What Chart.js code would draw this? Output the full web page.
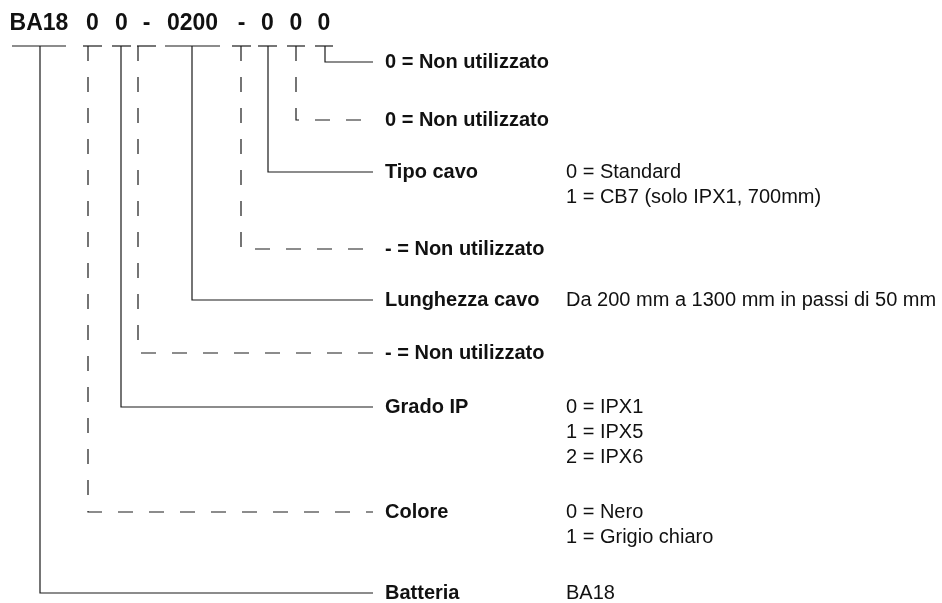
<!DOCTYPE html>
<html lang="it">
<head>
    <meta charset="UTF-8">
    <title>Codice BA18</title>
    <script src="https://cdn.jsdelivr.net/npm/chart.js"></script>
    <style>
        html, body { margin: 0; padding: 0; background: #fff; }
        .contenedor { width: 942px; height: 603px; position: relative; }
    </style>
</head>
<body>
<div class="contenedor">
    <canvas id="graficoCodice"></canvas>
</div>
<script>
// parti del codice (testata)
const codeParts = ['BA18', '0', '0', '-', '0200', '-', '0', '0', '0'];
const partStart = [12, 83, 112, 137, 165, 232, 258, 287, 315];
const partEnd   = [66, 102, 131, 156, 220, 251, 277, 305, 333];
const headerY = 46;

// campi, dall'alto verso il basso
const fieldLabels = ['0 = Non utilizzato', '0 = Non utilizzato', 'Tipo cavo', '- = Non utilizzato',
    'Lunghezza cavo', '- = Non utilizzato', 'Grado IP', 'Colore', 'Batteria'];
const fieldDrop = [325, 296, 268, 241, 192, 138, 121, 88, 40];
const fieldRow  = [62, 120, 172, 249, 300, 353, 407, 512, 593];
const fieldDashed = [false, true, false, true, false, true, false, true, false];
const fieldDescriptions = [
    [], [],
    ['0 = Standard', '1 = CB7 (solo IPX1, 700mm)'],
    [],
    ['Da 200 mm a 1300 mm in passi di 50 mm'],
    [],
    ['0 = IPX1', '1 = IPX5', '2 = IPX6'],
    ['0 = Nero', '1 = Grigio chiaro'],
    ['BA18']
];
const lineEnd = 373;

const datasets = [];
codeParts.forEach((p, i) => {
    datasets.push({
        data: [{x: partStart[i], y: headerY}, {x: partEnd[i], y: headerY}],
        borderDash: []
    });
});
fieldLabels.forEach((l, i) => {
    datasets.push({
        data: [{x: fieldDrop[i], y: headerY}, {x: fieldDrop[i], y: fieldRow[i]}, {x: lineEnd, y: fieldRow[i]}],
        borderDash: fieldDashed[i] ? [15, 16] : []
    });
});
datasets.forEach(d => {
    d.showLine = true;
    d.pointRadius = 0;
    d.borderColor = '#1a1a1a';
    d.borderWidth = 1.2;
    d.tension = 0;
});

const testi = {
    id: 'testi',
    afterDatasetsDraw(chart) {
        const ctx = chart.ctx;
        const sx = chart.scales.x, sy = chart.scales.y;
        ctx.save();
        ctx.fillStyle = '#111';
        ctx.textBaseline = 'middle';
        // testata
        ctx.font = 'bold 23px "Liberation Sans", Arial, sans-serif';
        ctx.textAlign = 'center';
        codeParts.forEach((p, i) => {
            const cx = (sx.getPixelForValue(partStart[i]) + sx.getPixelForValue(partEnd[i])) / 2;
            ctx.fillText(p, cx, sy.getPixelForValue(headerY - 22));
        });
        ctx.textAlign = 'left';
        fieldLabels.forEach((l, i) => {
            const y = sy.getPixelForValue(fieldRow[i]);
            ctx.font = 'bold 20px "Liberation Sans", Arial, sans-serif';
            ctx.fillText(l, sx.getPixelForValue(385), y);
            ctx.font = '20px "Liberation Sans", Arial, sans-serif';
            fieldDescriptions[i].forEach((d, k) => {
                ctx.fillText(d, sx.getPixelForValue(566), sy.getPixelForValue(fieldRow[i] + k * 25));
            });
        });
        ctx.restore();
    }
};

new Chart(document.getElementById('graficoCodice').getContext('2d'), {
    type: 'scatter',
    data: { datasets: datasets },
    options: {
        responsive: true,
        maintainAspectRatio: false,
        animation: false,
        layout: { padding: 0 },
        plugins: { legend: { display: false }, tooltip: { enabled: false } },
        scales: {
            x: { type: 'linear', min: 0, max: 942, display: false },
            y: { type: 'linear', min: 0, max: 603, reverse: true, display: false }
        }
    },
    plugins: [testi]
});
</script>
</body>
</html>
